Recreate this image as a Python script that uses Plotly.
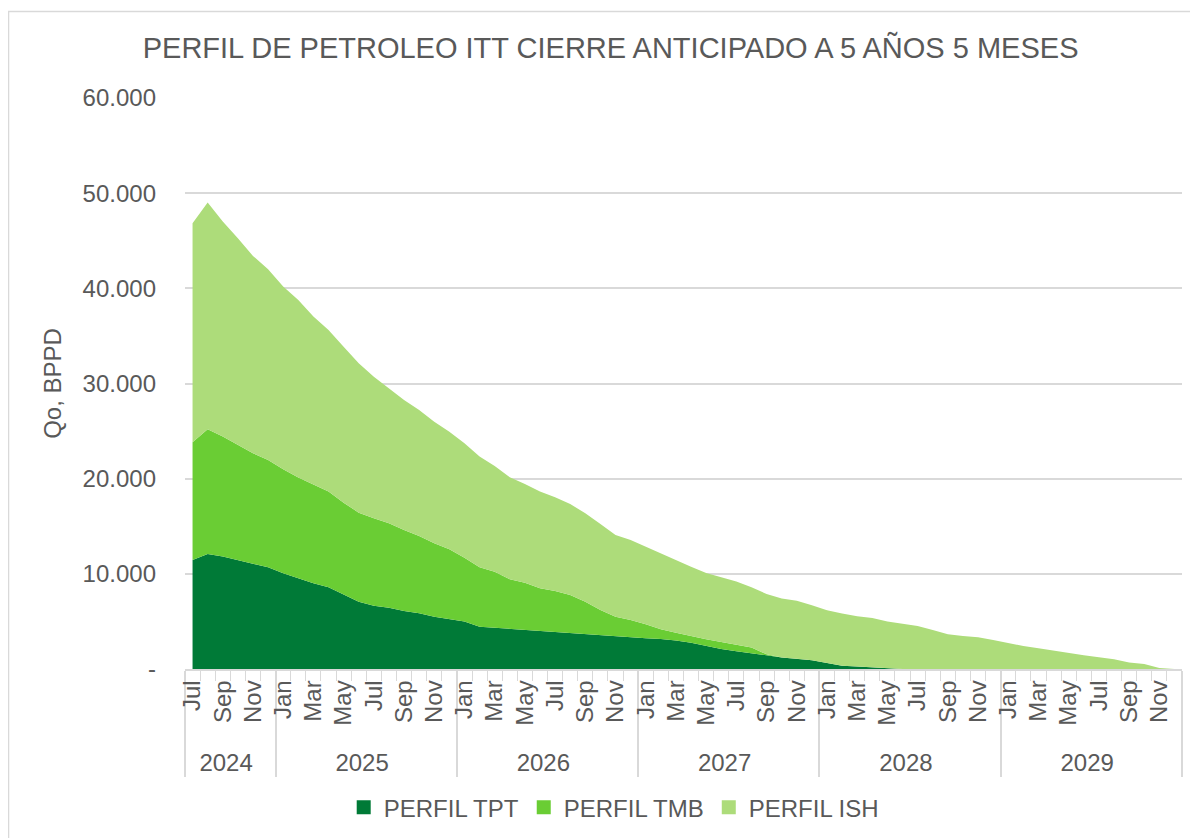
import plotly.graph_objects as go

# monthly oil production profile, Jul 2024 - Dec 2029 (BPPD)
years = ["2024"] * 6 + ["2025"] * 12 + ["2026"] * 12 + ["2027"] * 12 + ["2028"] * 12 + ["2029"] * 12
month_names = ["Jan", "Feb", "Mar", "Apr", "May", "Jun", "Jul", "Aug", "Sep", "Oct", "Nov", "Dec"]
months = month_names[6:] + month_names * 5

perfil_tpt = [
    11460, 12090, 11810, 11460, 11040, 10690,
    10050, 9530, 9010, 8590, 7850, 7070, 6650, 6440, 6100, 5850, 5500, 5220,
    5000, 4450, 4340, 4240, 4100, 3990, 3850, 3750, 3640, 3540, 3400, 3330,
    3230, 3150, 3000, 2770, 2420, 2100, 1860, 1680, 1440, 1200, 1090, 910,
    630, 350, 250, 180, 40, 0, 0, 0, 0, 0, 0, 0,
    0, 0, 0, 0, 0, 0, 0, 0, 0, 0, 0, 0,
]
perfil_tmb = [
    12370, 13100, 12610, 12080, 11630, 11280,
    10940, 10580, 10330, 10050, 9630, 9360, 9190, 8870, 8510, 8130, 7710, 7360,
    6700, 6240, 5890, 5190, 4970, 4490, 4350, 4030, 3430, 2660, 2100, 1820,
    1470, 1020, 800, 670, 700, 740, 700, 570, 100, 0, 0, 0,
    0, 0, 0, 0, 0, 0, 0, 0, 0, 0, 0, 0,
    0, 0, 0, 0, 0, 0, 0, 0, 0, 0, 0, 0,
]
perfil_ish = [
    23010, 23820, 22590, 21730, 20730, 20040,
    19190, 18670, 17690, 16990, 16390, 15690, 14880, 14190, 13660, 13240, 12780, 12360,
    12020, 11630, 11110, 10720, 10370, 10160, 9850, 9560, 9290, 9040, 8580, 8410,
    8150, 7920, 7660, 7310, 6980, 6810, 6640, 6350, 6340, 6220, 6070, 5800,
    5550, 5480, 5280, 5180, 4960, 4750, 4520, 4100, 3640, 3470, 3330, 3050,
    2700, 2420, 2170, 1920, 1650, 1440, 1230, 1020, 670, 530, 100, 0,
]

y_ticks = [0, 10000, 20000, 30000, 40000, 50000, 60000]
y_tick_text = ["-", "10.000", "20.000", "30.000", "40.000", "50.000", "60.000"]

# Excel only labels every other month. Plotly orders the inner categories by
# first appearance, so every label gets an invisible per-year suffix to stay unique.
shown = ["Jan", "Mar", "May", "Jul", "Sep", "Nov"]
year_list = sorted(set(years))
month_labels = []
for yr, m in zip(years, months):
    suffix = "\u200b" * year_list.index(yr)
    base = m if m in shown else "\u200b" * (month_names.index(m) + 1) * 7
    month_labels.append(base + suffix)
x = [years, month_labels]

series = [
    ("PERFIL TPT", perfil_tpt, "#007A37"),
    ("PERFIL TMB", perfil_tmb, "#6ACD34"),
    ("PERFIL ISH", perfil_ish, "#ADDC7A"),
]

font = "Liberation Sans, Arial, sans-serif"
grey = "#595959"

fig = go.Figure()
for name, vals, col in series:
    fig.add_trace(go.Scatter(
        x=x, y=vals, name=name, mode="lines", stackgroup="one",
        line=dict(width=0, color=col), fillcolor=col, showlegend=False,
    ))
# square legend keys like Excel
for name, vals, col in series:
    fig.add_trace(go.Scatter(
        x=[years[:1], month_labels[:1]], y=[None], name=name, mode="markers",
        marker=dict(symbol="square", size=14, color=col), showlegend=True,
    ))

fig.update_layout(
    width=1198, height=838,
    margin=dict(l=177, r=24, t=90, b=177),
    paper_bgcolor="white", plot_bgcolor="white",
    font=dict(family=font, size=24, color=grey),
    title=dict(text="PERFIL DE PETROLEO ITT CIERRE ANTICIPADO A 5 AÑOS 5 MESES",
               x=0.503, xanchor="center", y=0.952, yanchor="middle",
               font=dict(size=29, color=grey)),
    legend=dict(orientation="h", x=0.43, xanchor="center", y=-0.243, yanchor="middle",
                font=dict(size=24, color=grey), traceorder="normal"),
    xaxis=dict(
        type="multicategory", tickangle=-90, showgrid=False,
        range=[-0.5, len(years) - 0.5], dtick=1, tick0=0,
        showline=True, linecolor="#D9D9D9", linewidth=1.5,
        ticks="outside", ticklen=10, tickcolor="#D9D9D9",
        showdividers=True, dividercolor="#D9D9D9", dividerwidth=1.5,
        tickfont=dict(size=24, color=grey),
    ),
    yaxis=dict(
        range=[0, 60000], tickvals=y_ticks, ticktext=y_tick_text,
        showgrid=True, gridcolor="#D9D9D9", gridwidth=1.5,
        zeroline=False, showline=False, ticks="", ticklabelstandoff=28,
        title=dict(text="Qo, BPPD", font=dict(size=24, color=grey), standoff=14),
        tickfont=dict(size=24, color=grey),
    ),
    shapes=[dict(type="rect", xref="paper", yref="paper",
                 x0=-0.177, x1=1.2, y0=-0.6, y1=1.1515,
                 line=dict(color="#D9D9D9", width=1.5), fillcolor="rgba(0,0,0,0)")],
)

fig.write_html("out.html")
